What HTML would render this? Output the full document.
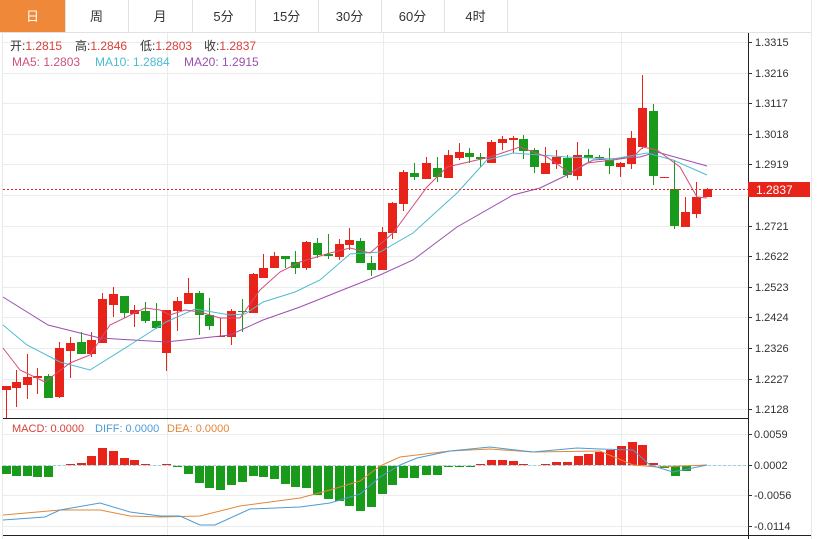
<!DOCTYPE html>
<html><head><meta charset="utf-8"><style>
body{margin:0;background:#fff;width:817px;height:539px;overflow:hidden;font-family:"Liberation Sans","Noto Sans CJK SC",sans-serif}
svg{position:absolute;left:0;top:0}
</style></head><body>
<svg id="s" width="817" height="539" viewBox="0 0 817 539" font-family="'Liberation Sans','Noto Sans CJK SC',sans-serif"></svg>
<script>
var s='';
function L(x1,y1,x2,y2,c,w,d){s+='<line x1="'+x1+'" y1="'+y1+'" x2="'+x2+'" y2="'+y2+'" stroke="'+c+'" stroke-width="'+(w||1)+'"'+(d?' stroke-dasharray="'+d+'"':'')+'/>';}
function R(x,y,w,h,c){s+='<rect x="'+x+'" y="'+y+'" width="'+w+'" height="'+h+'" fill="'+c+'"/>';}
function T(x,y,t,c,sz,a){s+='<text x="'+x+'" y="'+y+'" fill="'+c+'" font-size="'+(sz||12)+'"'+(a?' text-anchor="'+a+'"':'')+'>'+t+'</text>';}
var tabs=['日','周','月','5分','15分','30分','60分','4时'];
var tx=[0,65,128,192,255,318,381,444,507];
R(0,0,65,32,'#f0883a');
for(var i=0;i<8;i++){L(tx[i+1]+.5,0,tx[i+1]+.5,32,'#e2e2e2');T((tx[i]+tx[i+1])/2,21,tabs[i],i==0?'#fff':'#333',13,'middle');}
L(0,32.5,811,32.5,'#e2e2e2');L(811.5,0,811.5,539,'#e8e8e8');L(2.5,32,2.5,539,'#e8e8e8');
var py=[[1.3315,42],[1.3216,73],[1.3117,103],[1.3018,134],[1.2919,164],[1.2820,195],[1.2721,226],[1.2622,256],[1.2523,287],[1.2424,317],[1.2326,348],[1.2227,379],[1.2128,409]];
py.forEach(function(p){L(3,p[1]+.5,748,p[1]+.5,'#ececec');L(748,p[1]+.5,752,p[1]+.5,'#333');if(p[0]!=1.2820)T(755,p[1]+4,p[0].toFixed(4),'#333',11);});
[167,383,621].forEach(function(x){L(x+.5,33,x+.5,535,'#ececec');});
L(3,418.5,748,418.5,'#222');L(3,535.5,811,535.5,'#222');L(748.5,33,748.5,539,'#222');
var R_='#e8231a',G_='#1a9a1a';
var c=[[6,386,390,386,418,1],[16,382,388,370,407,1],[27,377,385,354,399,1],[37,376,378,368,394,1],[48,376,398,374,398,0],[59,348,397,342,398,1],[70,343,351,337,378,1],[81,342,354,332,354,0],[91,340,354,332,357,1],[102,299,343,293,343,1],[113,294,305,287,317,1],[124,296,313,296,318,0],[134,310,314,305,327,1],[145,311,321,302,323,0],[156,321,328,303,329,0],[166,310,353,310,371,1],[177,301,311,297,331,1],[188,293,304,278,304,1],[199,293,315,291,335,0],[209,315,326,298,330,0],[220,336,337,318,337,1],[231,311,337,309,345,1],[242,311,312,299,332,0],[253,274,313,273,313,1],[263,268,278,254,278,1],[274,256,268,252,268,1],[285,256,259,256,268,0],[295,262,268,251,274,0],[306,242,268,241,270,1],[317,243,255,238,258,0],[328,254,256,234,259,0],[339,244,257,239,260,1],[349,240,245,228,250,1],[360,241,263,238,263,0],[371,263,270,256,276,0],[382,232,270,227,270,1],[392,203,233,202,239,1],[403,172,204,170,211,1],[414,173,177,163,180,0],[426,163,179,157,179,1],[437,168,177,157,182,0],[448,155,178,150,178,1],[459,152,158,143,160,1],[469,153,157,148,163,0],[480,157,159,153,167,0],[491,142,163,140,163,1],[502,139,143,136,150,1],[513,138,140,136,153,1],[523,139,151,135,159,0],[534,150,167,148,173,0],[545,163,174,147,174,1],[556,157,164,150,169,1],[567,158,175,155,178,0],[577,155,176,142,180,1],[588,155,158,149,163,0],[599,157,158,155,160,0],[609,160,166,148,174,0],[620,163,167,162,177,1],[631,138,164,131,169,1],[642,108,147,75,149,1],[653,111,176,104,185,0],[664,177,178,177,178,1],[674,189,226,160,229,0],[685,212,227,197,227,1],[696,197,214,182,218,1],[707,189,197,188,197,1]];
c.forEach(function(k){var col=k[5]?R_:G_;L(k[0]+.5,k[3],k[0]+.5,k[4],col);R(k[0]-4,k[1],9,Math.max(1,k[2]-k[1]),col);});
function P(pts,col){s+='<polyline fill="none" stroke="'+col+'" stroke-width="1" points="'+pts+'"/>';}
P('3,297 48,325 100,338 166,342 230,335 263,320 300,307 330,295 380,275 413,260 457,227 513,195 540,188 567,175 593,160 640,157 657,152 707,166','#9b4fb0');
P('3,325 27,345 60,362 90,370 130,345 166,322 195,309 230,315 245,314 263,302 295,292 320,280 350,254 380,252 413,233 457,193 487,160 513,153 567,157 613,159 647,153 673,160 707,175','#4dbcd0');
P('3,348 20,370 45,382 70,363 90,355 110,325 145,308 160,310 170,315 185,310 200,312 220,318 240,318 260,290 280,272 300,262 330,253 350,248 370,253 393,233 427,187 447,167 490,157 520,147 547,157 570,173 587,163 613,160 633,157 643,147 657,150 680,167 697,197 707,198','#d0507a');
L(3,189.5,748,189.5,'#e8231a',1,'2,2');
R(748,182,62,15,'#e8231a');T(756,194,'1.2837','#fff',12);
s+='<text x="10" y="50" font-size="12" fill="#333">开:<tspan fill="#d9413a">1.2815</tspan></text>';
s+='<text x="75" y="50" font-size="12" fill="#333">高:<tspan fill="#d9413a">1.2846</tspan></text>';
s+='<text x="140" y="50" font-size="12" fill="#333">低:<tspan fill="#d9413a">1.2803</tspan></text>';
s+='<text x="204" y="50" font-size="12" fill="#333">收:<tspan fill="#d9413a">1.2837</tspan></text>';
T(12,66,'MA5: 1.2803','#d0507a',12);T(95,66,'MA10: 1.2884','#4dbcd0',12);T(184,66,'MA20: 1.2915','#9b4fb0',12);
[[434,'0.0059'],[465,'0.0002'],[495,'-0.0056'],[526,'-0.0114']].forEach(function(p){L(3,p[0]+.5,748,p[0]+.5,'#ececec');L(748,p[0]+.5,752,p[0]+.5,'#333');T(754,p[0]+4,p[1],'#333',11);});
L(3,465.5,748,465.5,'#9fd0e0',1,'3,2');
T(12,432,'MACD: 0.0000','#d9413a',11);T(95,432,'DIFF: 0.0000','#4d9bd6',11);T(167,432,'DEA: 0.0000','#e0883a',11);
var m=[[6,474],[16,476],[27,476],[37,477],[48,477],[70,464],[81,463],[91,456],[102,448],[113,451],[124,458],[134,460],[145,464],[166,464],[177,467],[188,474],[199,483],[209,488],[220,490],[231,485],[242,482],[253,476],[263,477],[274,479],[285,484],[295,487],[306,488],[317,495],[328,499],[339,501],[349,506],[360,511],[371,507],[382,494],[392,485],[403,478],[414,478],[426,475],[437,475],[448,467],[459,467],[470,466],[480,464],[491,460],[502,460],[513,461],[523,464],[545,464],[556,462],[567,462],[578,456],[588,454],[599,452],[610,450],[621,446],[632,442],[642,445],[653,463],[664,468],[675,476],[686,471]];
m.forEach(function(b){var z=465;var up=b[1]<z;R(b[0]-4,up?b[1]:z+1,9,Math.max(1,up?z-b[1]:b[1]-z-1),up?R_:G_);});
P('3,515 60,510 100,510 130,516 160,517 200,516 240,506 300,498 330,490 360,481 380,466 400,457 450,451 490,449 533,452 600,451 633,465 657,467 707,465','#e0883a');
P('3,520 45,517 60,510 100,503 130,512 160,516 180,516 200,525 215,525 250,509 300,507 330,503 360,494 380,477 400,465 417,458 450,451 490,447 533,452 577,448 600,449 633,450 650,465 673,472 707,465','#4d9bd6');
document.getElementById('s').innerHTML=s;
</script>
</body></html>
